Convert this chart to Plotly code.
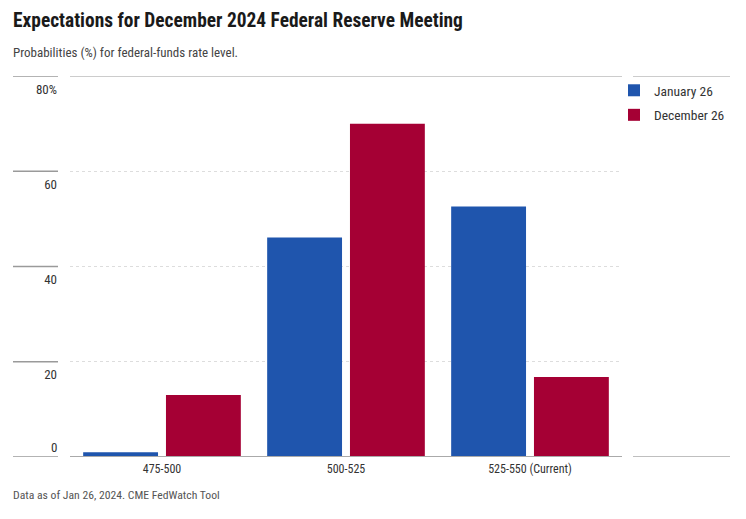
import plotly.graph_objects as go

categories = ["475-500", "500-525", "525-550 (Current)"]
jan26 = [1.0, 46.1, 52.6]
dec26 = [13.0, 70.0, 16.8]
series_names = ["January 26", "December 26"]
tick_vals = [0, 20, 40, 60, 80]
tick_text = ["0", "20", "40", "60", "80%"]

FONT = "Roboto Condensed, Liberation Sans Narrow, Roboto, sans-serif"
BLUE = "#1F55AD"
RED = "#A50034"

W, H = 746, 519
L, R, T, B = 70, 124, 76, 62
pw = W - L - R
ph = H - T - B

fig = go.Figure()
fig.add_trace(go.Bar(x=categories, y=jan26, name=series_names[0], legendgroup="a",
                     marker=dict(color=BLUE, line=dict(width=0))))
fig.add_trace(go.Bar(x=categories, y=dec26, name=series_names[1], legendgroup="b",
                     marker=dict(color=RED, line=dict(width=0))))

shapes = []
for v in tick_vals:
    shapes.append(dict(type="line", xref="paper", yref="y", x0=(13 - L) / pw, x1=(58 - L) / pw,
                       y0=v, y1=v, line=dict(color="#9a9a9a", width=1.5)))
shapes.append(dict(type="line", xref="paper", yref="y", x0=0, x1=1, y0=80, y1=80,
                   line=dict(color="#9a9a9a", width=1.2)))
shapes.append(dict(type="line", xref="paper", yref="y", x0=0, x1=1, y0=0, y1=0,
                   line=dict(color="#aaaaaa", width=2)))
shapes.append(dict(type="line", xref="paper", yref="y", x0=(633 - L) / pw, x1=(730 - L) / pw, y0=80, y1=80,
                   line=dict(color="#9a9a9a", width=1.2)))
shapes.append(dict(type="line", xref="paper", yref="y", x0=(633 - L) / pw, x1=(730 - L) / pw, y0=0, y1=0,
                   line=dict(color="#aaaaaa", width=1.5)))

# zero label sits above its line in the reference; the others sit below
axis_text = [t if v != 0 else "" for v, t in zip(tick_vals, tick_text)]

fig.update_layout(
    width=W, height=H,
    margin=dict(l=L, r=R, t=T, b=B, autoexpand=False),
    paper_bgcolor="white", plot_bgcolor="white",
    font=dict(family=FONT, color="#333333", size=12),
    barmode="group", bargap=0.1, bargroupgap=0.096,
    showlegend=True,
    legend=dict(x=(614 - L) / pw, y=1 + 1 / ph, xanchor="left", yanchor="top",
                font=dict(size=13.5, color="#333333"), itemwidth=30, tracegroupgap=4,
                traceorder="grouped", bgcolor="rgba(0,0,0,0)"),
    shapes=shapes,
    xaxis=dict(showgrid=False, showline=False, ticks="", automargin=False, ticklabelstandoff=3,
               tickfont=dict(size=12, color="#333333")),
    yaxis=dict(range=[0, 80], tickvals=tick_vals, ticktext=axis_text, showgrid=True,
               gridcolor="#dddddd", griddash="dot", gridwidth=1, zeroline=False, showline=False,
               ticks="", ticklabelshift=13, ticklabelstandoff=12, automargin=False,
               tickfont=dict(size=13, color="#333333")),
    annotations=[
        dict(text=tick_text[tick_vals.index(0)], xref="paper", yref="y",
             x=(58 - L) / pw, y=0, xanchor="right", yanchor="middle", yshift=10,
             showarrow=False, borderpad=0, font=dict(size=13, color="#333333")),
        dict(text="<b>Expectations for December 2024 Federal Reserve Meeting</b>", xref="paper", yref="paper",
             x=(11 - L) / pw, y=1 + (T - 20) / ph, xanchor="left", yanchor="middle",
             showarrow=False, font=dict(size=19.4, color="#1a1a1a")),
        dict(text="Probabilities (%) for federal-funds rate level.", xref="paper", yref="paper",
             x=(11 - L) / pw, y=1 + (T - 52) / ph, xanchor="left", yanchor="middle",
             showarrow=False, font=dict(size=13, color="#444444")),
        dict(text="Data as of Jan 26, 2024. CME FedWatch Tool", xref="paper", yref="paper",
             x=(11 - L) / pw, y=-(495 - (H - B)) / ph, xanchor="left", yanchor="middle",
             showarrow=False, font=dict(size=11.7, color="#555555")),
    ],
)

fig.write_html("out.html", config={"displayModeBar": False},
               post_script="document.body.style.margin='0';")
